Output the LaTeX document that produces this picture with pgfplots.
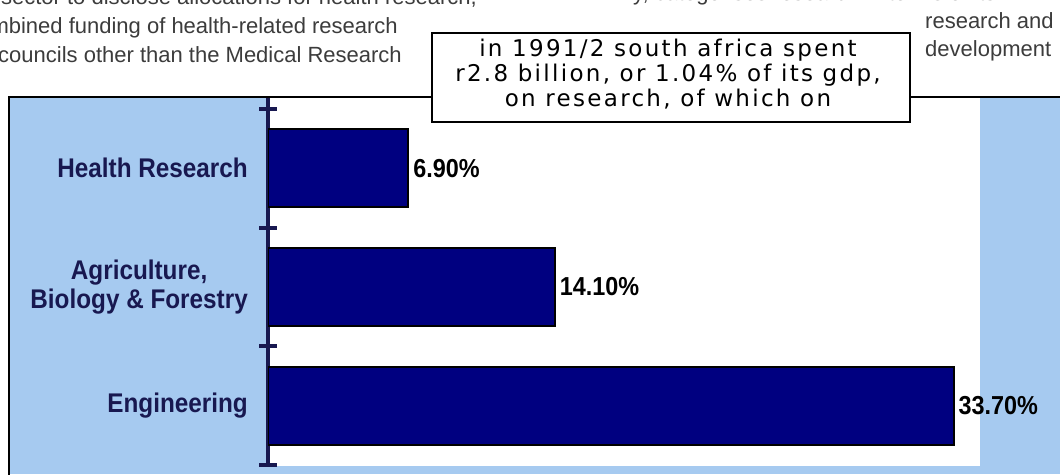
\documentclass[border=0pt]{standalone}
\usepackage{pgfplots}
\pgfplotsset{compat=1.18}
\usepackage{fontspec}
\setmainfont{Liberation Sans}
\newfontfamily\lblfont{Liberation Sans Bold}[FakeStretch=0.9]
\newfontfamily\boxfont{DejaVu Sans}[LetterSpace=10]
\definecolor{skyb}{HTML}{A6CAF0}
\definecolor{navyb}{HTML}{000080}
\definecolor{lblc}{HTML}{181850}
\definecolor{txtg}{HTML}{3C3C3C}
\begin{document}
\begin{tikzpicture}[x=1pt,y=1pt]
\useasboundingbox (0,0) rectangle (1060,474);
\clip (0,0) rectangle (1060,474);
\fill[white] (0,0) rectangle (1060,474);
\fill[skyb] (9,0) rectangle (1060,377);
\draw[line width=2pt] (9,-3) -- (9,377) -- (1063,377);
\begin{axis}[
  at={(268pt,8pt)}, anchor=south west, scale only axis,
  width=712pt, height=368pt,
  xmin=0, xmax=35, ymin=-0.5927, ymax=2.5084, y dir=reverse,
  axis background/.style={fill=white},
  axis x line=none, axis y line=left,
  y axis line style={-, draw=lblc, line width=3.5pt},
  xbar, bar width=78pt,
  ytick={0,1,2},
  yticklabels={Health Research,{Agriculture,\\Biology \& Forestry},Engineering},
  major tick length=0pt,
  tick align=center,
  every tick/.style={draw=lblc, line width=4pt},
  major tick style={draw=lblc, line width=4pt},
  extra y ticks={-0.5,0.5,1.5,2.5}, extra y tick labels={},
  extra y tick style={major tick length=17pt, tick align=center,
     major tick style={draw=lblc, line width=4pt}},
  yticklabel style={font=\lblfont\fontsize{27}{29}\selectfont, text=lblc,
     align=center, anchor=east, inner sep=0pt, xshift=-20pt},
  point meta=x,
  nodes near coords={\pgfmathprintnumber[assume math mode=true, fixed, fixed zerofill, precision=2]{\pgfplotspointmeta}\%},
  nodes near coords style={font=\lblfont\fontsize{26}{28}\selectfont, text=black,
     anchor=west, inner sep=0pt, xshift=4pt},
]
\addplot[fill=navyb, draw=black, line width=2pt] coordinates {(6.9,0) (14.1,1) (33.7,2)};
\end{axis}
% text box
\draw[fill=white, line width=2pt] (432,352) rectangle (910,441);
\begin{scope}[every node/.style={font=\boxfont\fontsize{23}{26}\selectfont, anchor=base, inner sep=0pt}]
\node at (668,417) {in 1991/2 south africa spent};
\node at (668,392) {r2.8 billion, or 1.04\% of its gdp,};
\node at (668,367) {on research, of which on};
\end{scope}
% surrounding page text
\begin{scope}[every node/.style={font=\fontsize{22}{26}\selectfont, text=txtg, inner sep=0pt}]
\node[anchor=base east] at (477,469) {sector to disclose allocations for health research,};
\node[anchor=base east] at (398,440) {combined funding of health-related research};
\node[anchor=base east] at (402,411) {councils other than the Medical Research};
\node[anchor=base west] at (633,473) {y, categorises research in terms of its};
\node[anchor=base west] at (925,445) {research and};
\node[anchor=base west] at (925,417) {development};
\end{scope}
\end{tikzpicture}
\end{document}
